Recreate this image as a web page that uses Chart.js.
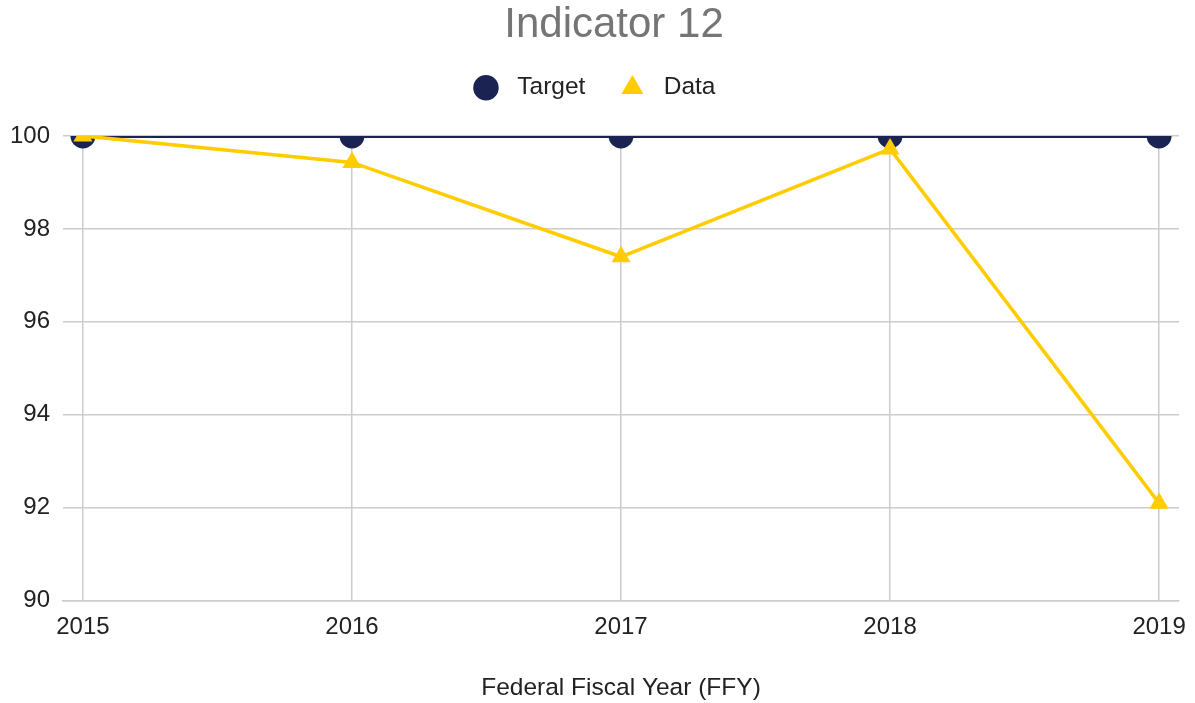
<!DOCTYPE html>
<html>
<head>
<meta charset="utf-8">
<script src="https://cdn.jsdelivr.net/npm/chart.js@4/dist/chart.umd.min.js"></script>
<style>
  html, body { margin: 0; padding: 0; background: #fff; }
  #wrap { width: 1195px; height: 703px; position: relative; }
</style>
</head>
<body>
<div id="wrap"><canvas id="chart"></canvas></div>
<script>
(function () {
  var years = [2015, 2016, 2017, 2018, 2019];
  var target = [100, 100, 100, 100, 100];
  var actual = [100, 99.43, 97.4, 99.72, 92.1];
  var yTicks = [90, 92, 94, 96, 98, 100];

  var C = {
    target: '#1a2352',
    data: '#ffcc00',
    grid: '#cccccc',
    text: '#222222',
    title: '#757575'
  };
  var FONT = 'Arial, "Liberation Sans", sans-serif';
  var LEGEND_GAP = 26;    // extra space between legend and plot
  var TITLE_SHIFT = 26;   // nudge title right
  var LEGEND_SHIFT = 10;  // nudge legend right

  function pts(vals) {
    return years.map(function (y, i) { return { x: y, y: vals[i] }; });
  }

  var layoutTweaks = {
    id: 'layoutTweaks',
    beforeInit: function (chart) {
      var fit = chart.legend.fit;
      chart.legend.fit = function () {
        fit.bind(chart.legend)();
        this.height += LEGEND_GAP;
      };
    },
    afterLayout: function (chart) {
      var t = chart.titleBlock;
      t.left += TITLE_SHIFT;
      t.right += TITLE_SHIFT;
      var l = chart.legend;
      l.left += LEGEND_SHIFT;
      l.right += LEGEND_SHIFT;
    }
  };

  Chart.defaults.font.family = FONT;

  new Chart(document.getElementById('chart').getContext('2d'), {
    type: 'line',
    plugins: [layoutTweaks],
    data: {
      datasets: [
        {
          label: 'Target',
          data: pts(target),
          borderColor: C.target,
          backgroundColor: C.target,
          pointBackgroundColor: C.target,
          pointBorderWidth: 0,
          pointStyle: 'circle',
          pointRadius: 12.5,
          borderWidth: 4,
          order: 2
        },
        {
          label: 'Data',
          data: pts(actual),
          borderColor: C.data,
          backgroundColor: C.data,
          pointBackgroundColor: C.data,
          pointBorderWidth: 0,
          pointStyle: 'triangle',
          pointRadius: 11,
          borderWidth: 3.5,
          order: 1
        }
      ]
    },
    options: {
      responsive: true,
      maintainAspectRatio: false,
      animation: false,
      layout: { padding: { left: -3, right: 16, top: 0, bottom: 0 } },
      plugins: {
        title: {
          display: true,
          text: 'Indicator 12',
          color: C.title,
          font: { size: 42, weight: 'normal' },
          padding: { top: 0, bottom: -3 }
        },
        legend: {
          display: true,
          labels: {
            usePointStyle: true,
            boxHeight: 18,
            color: C.text,
            font: { size: 24.5 },
            padding: 28,
            sort: function (a, b) { return a.datasetIndex - b.datasetIndex; },
            generateLabels: function (chart) {
              var items = Chart.defaults.plugins.legend.labels.generateLabels(chart);
              items.forEach(function (it) { it.text = ' ' + it.text + ' '; });
              return items;
            }
          }
        },
        tooltip: { enabled: false }
      },
      scales: {
        x: {
          type: 'linear',
          min: 2014.926,
          max: 2019.074,
          afterBuildTicks: function (axis) {
            axis.ticks = years.map(function (v) { return { value: v }; });
          },
          afterFit: function (axis) {
            axis.paddingLeft = 0;
            axis.paddingRight = 0;
          },
          ticks: {
            color: C.text,
            font: { size: 24 },
            padding: 12,
            maxRotation: 0,
            callback: function (v) { return String(v); }
          },
          grid: { color: C.grid, lineWidth: 1.5, drawTicks: false },
          border: { color: C.grid, width: 1.5 },
          title: {
            display: true,
            text: 'Federal Fiscal Year (FFY)',
            color: C.text,
            font: { size: 24.5 },
            padding: { top: 20, bottom: 0 }
          }
        },
        y: {
          min: 90,
          max: 100,
          afterBuildTicks: function (axis) {
            axis.ticks = yTicks.map(function (v) { return { value: v }; });
          },
          ticks: {
            color: C.text,
            font: { size: 24 },
            padding: 13
          },
          grid: { color: C.grid, lineWidth: 1.5, drawTicks: false },
          border: { display: false }
        }
      }
    }
  });
})();
</script>
</body>
</html>
